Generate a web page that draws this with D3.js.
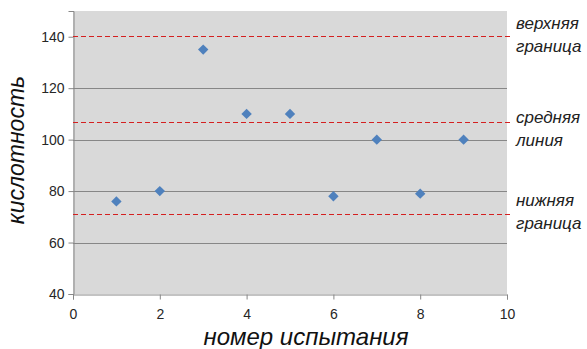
<!DOCTYPE html>
<html><head><meta charset="utf-8">
<script src="https://cdn.jsdelivr.net/npm/d3@7"></script>
<style>body{margin:0;background:#fff}svg{display:block}</style>
</head><body>
<svg id="c" width="587" height="349"></svg>
<script>
const trials = [1, 2, 3, 4, 5, 6, 7, 8, 9];
const acidity = [76, 80, 135, 110, 110, 78, 100, 79, 100];
const refValues = [140, 106.8, 71.4];
const refLabels = [["верхняя", "граница"], ["средняя", "линия"], ["нижняя", "граница"]];
const xTicks = [0, 2, 4, 6, 8, 10];
const yTicks = [40, 60, 80, 100, 120, 140];
const xTitle = "номер испытания";
const yTitle = "кислотность";

const svg = d3.select("#c");
const m = {l: 73, r: 507, t: 11, b: 294};
const x = d3.scaleLinear().domain([0, 10]).range([m.l, m.r]);
const y = d3.scaleLinear().domain([40, 150]).range([m.b, m.t]);
const font = "'Liberation Sans', Arial, sans-serif";

svg.append("rect").attr("x", m.l).attr("y", m.t).attr("width", m.r - m.l).attr("height", m.b - m.t).attr("fill", "#d9d9d9");

// gridlines (the 140 line is covered by the upper reference line)
svg.append("g").selectAll("line").data(yTicks.filter(d => d > 40 && d < 140)).join("line")
  .attr("x1", m.l).attr("x2", m.r).attr("y1", d => Math.round(y(d)) + 0.5).attr("y2", d => Math.round(y(d)) + 0.5)
  .attr("stroke", "#878787").attr("stroke-width", 1);

// y axis
const yAx = svg.append("g").attr("transform", `translate(${m.l + 0.5},0)`)
  .call(d3.axisLeft(y).tickValues(yTicks).tickSize(5).tickPadding(4));
// x axis
const xAx = svg.append("g").attr("transform", `translate(0,${m.b + 0.5})`)
  .call(d3.axisBottom(x).tickValues(xTicks).tickSize(5).tickPadding(10));
[yAx, xAx].forEach(g => {
  g.select(".domain").attr("stroke", "#878787");
  g.selectAll(".tick line").attr("stroke", "#878787");
  g.selectAll("text").attr("fill", "#262626").style("font-family", font).style("font-size", "14px");
});

// reference lines (snapped to a pixel row)
const rowY = d => 2 * Math.round(y(d) / 2) + 0.5;
svg.append("g").selectAll("line").data(refValues).join("line")
  .attr("x1", m.l).attr("x2", m.r + 3).attr("y1", rowY).attr("y2", rowY)
  .attr("stroke", "#d42020").attr("stroke-width", 1.1).attr("stroke-dasharray", "5,3");

// points
const sym = d3.symbol().type(d3.symbolSquare).size(54);
svg.append("g").selectAll("path").data(trials).join("path")
  .attr("d", sym)
  .attr("transform", (d, i) => `translate(${x(d)},${y(acidity[i])}) rotate(45)`)
  .attr("fill", "#4f81bd");

// ref labels
const lab = svg.append("g").style("font-family", font).style("font-style", "italic").style("font-size", "17px").attr("fill", "#222");
refLabels.forEach((ls, i) => {
  const by = [29, 123, 206][i];
  ls.forEach((t, j) => lab.append("text").attr("x", 516).attr("y", by + j * 23).text(t));
});

// titles
svg.append("text").attr("x", 306).attr("y", 345).attr("text-anchor", "middle")
  .style("font-family", font).style("font-style", "italic").style("font-size", "24px").attr("fill", "#111").text(xTitle);
svg.append("text").attr("transform", "translate(24,150) rotate(-90)").attr("text-anchor", "middle")
  .style("font-family", font).style("font-style", "italic").style("font-size", "23px").attr("fill", "#111").text(yTitle);
</script>
</body></html>
